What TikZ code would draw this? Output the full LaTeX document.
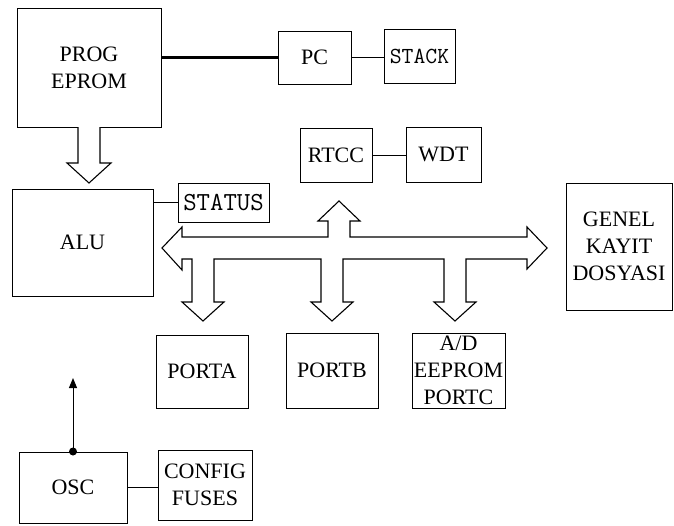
\documentclass[tikz,border=0pt]{standalone}
\usepackage{fontspec}
\setmainfont{Liberation Serif}
\usepackage{tikz}
\usetikzlibrary{arrows.meta}

\begin{document}
\begin{tikzpicture}[x=1pt, y=-1pt,
  every node/.style={font=\fontsize{22}{27}\selectfont, align=center, inner sep=0pt},
  blk/.style={draw, line width=1pt, rectangle},
  reg/.style={blk, font=\ttfamily\fontsize{23}{27}\selectfont},
  wire/.style={line width=1pt},
  bus/.style={draw, line width=1.1pt, fill=white, line join=miter},
]
\useasboundingbox (0,0) rectangle (674,525);

% Memory and program counter
\node[blk, minimum width=144, minimum height=119] (prog) at (89,67.5) {PROG\\EPROM};
\node[blk, minimum width=73, minimum height=53] (pc) at (314.5,57.5) {PC};
\node[reg, minimum width=71, minimum height=54] (stack) at (419.5,56) {STACK};

% Timers
\node[blk, minimum width=72, minimum height=54] (rtcc) at (336,155) {RTCC};
\node[blk, minimum width=75, minimum height=55] (wdt) at (443.5,154.5) {WDT};

% ALU and status
\node[blk, minimum width=141, minimum height=107] (alu) at (82.5,242.5) {ALU};
\node[reg, minimum width=91, minimum height=39, font=\ttfamily\fontsize{26}{27}\selectfont] (status) at (223.5,202.5) {STATUS};

% Register file
\node[blk, minimum width=106, minimum height=127] (genel) at (619,246.5) {GENEL\\KAYIT\\DOSYASI};

% Ports
\node[blk, minimum width=92, minimum height=73] (porta) at (202,371.5) {PORTA};
\node[blk, minimum width=92, minimum height=75] (portb) at (332,370.5) {PORTB};
\node[blk, minimum width=93, minimum height=75] (portc) at (458.5,370.5) {A/D\\EEPROM\\PORTC};

% Oscillator
\node[blk, minimum width=108, minimum height=71] (osc) at (73,487.5) {OSC};
\node[blk, minimum width=94, minimum height=70] (config) at (205,485) {CONFIG\\FUSES};

% Plain connections
\draw[line width=3pt] (pc.west -| prog.east) -- (pc.west);
\draw[wire] (pc.east) -- (pc.east -| stack.west);
\draw[wire] (rtcc.east) -- (rtcc.east -| wdt.west);
\draw[wire] (status.west -| alu.east) -- (status.west);
\draw[wire] (osc.east) -- (osc.east -| config.west);

% Clock output
\coordinate (clkout) at (73,378);
\draw[wire, -{Triangle[length=10pt,width=8pt]}] (osc.north) -- (clkout);
\fill (osc.north) circle (4);

% Program bus
\draw[bus] (78,127) -- (78,163) -- (67,163) -- (89,183) -- (111,163) -- (100,163) -- (100,127);

% Data bus
\draw[bus] (162,248) -- (182,227) -- (182,237) -- (328,237) -- (328,221) -- (318,221)
  -- (339,201) -- (360,221) -- (350,221) -- (350,237) -- (527,237) -- (527,227)
  -- (547,248) -- (527,269) -- (527,259) -- (466,259) -- (466,302) -- (476,302)
  -- (455,321) -- (434,302) -- (444,302) -- (444,259) -- (343,259) -- (343,302)
  -- (353,302) -- (332,321) -- (311,302) -- (321,302) -- (321,259) -- (214,259)
  -- (214,302) -- (224,302) -- (203,321) -- (182,302) -- (192,302) -- (192,259)
  -- (182,259) -- (182,270) -- cycle;

\end{tikzpicture}
\end{document}
